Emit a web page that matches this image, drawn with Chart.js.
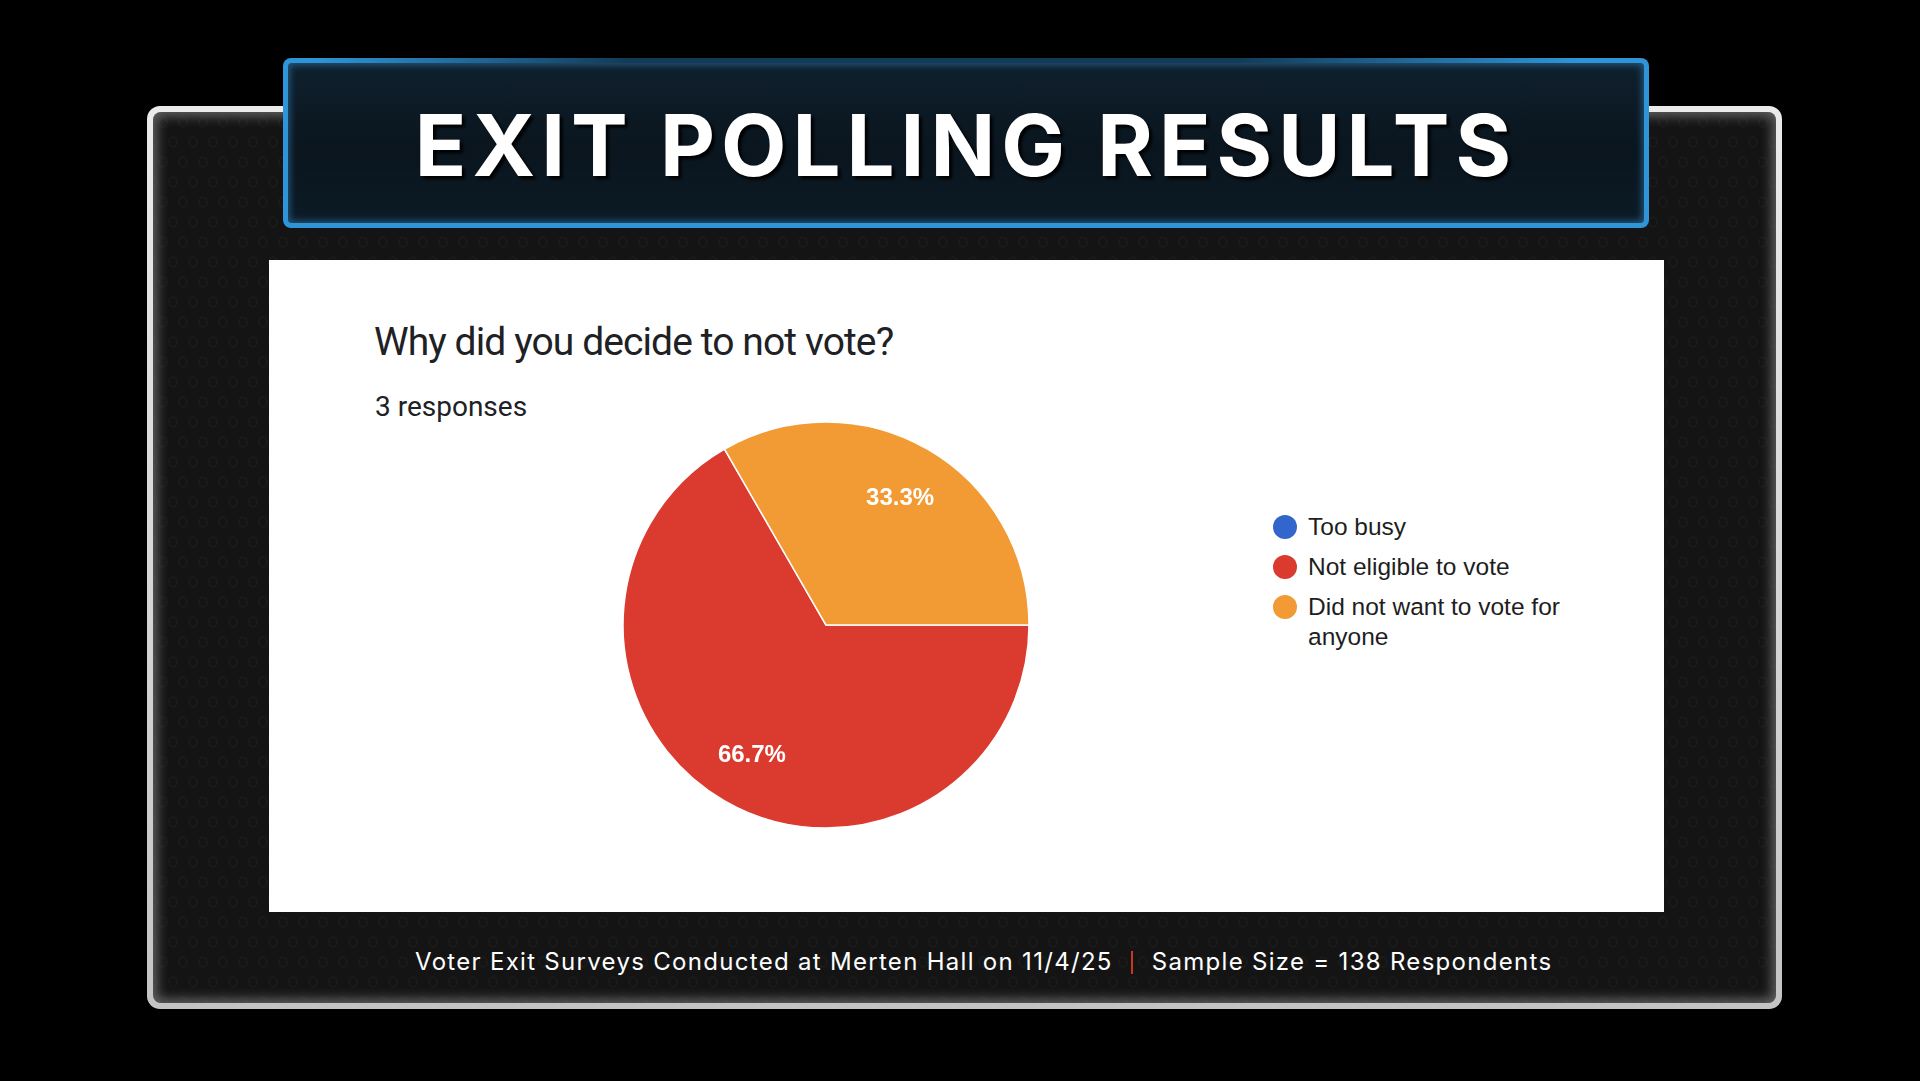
<!DOCTYPE html>
<html>
<head>
<meta charset="utf-8">
<title>Exit Polling Results</title>
<script src="https://cdn.jsdelivr.net/npm/chart.js@4.4.1/dist/chart.umd.min.js"></script>
<style>
    html, body {
        margin: 0;
        padding: 0;
        width: 1920px;
        height: 1081px;
        overflow: hidden;
        background: #000;
    }
    #frame {
        position: absolute;
        left: 147px;
        top: 106px;
        width: 1635px;
        height: 903px;
        border-radius: 13px;
        background: linear-gradient(#ebebeb, #c4c4c4);
    }
    #frameInner {
        position: absolute;
        left: 6px;
        top: 6px;
        right: 6px;
        bottom: 6px;
        border-radius: 8px;
        background-color: #141414;
        background-image:
            radial-gradient(5px 6px at 10px 10px, transparent 62%, rgba(255,255,255,0.028) 72%, rgba(255,255,255,0.028) 88%, transparent 100%),
            radial-gradient(5px 6px at 10px 10px, transparent 62%, rgba(255,255,255,0.028) 72%, rgba(255,255,255,0.028) 88%, transparent 100%);
        background-size: 20px 40px, 20px 40px;
        background-position: 0 0, 10px 20px;
        box-shadow: inset 0 0 12px 4px rgba(125,125,125,0.75);
    }
    #banner {
        position: absolute;
        left: 283px;
        top: 58px;
        width: 1366px;
        height: 170px;
        border-radius: 8px;
        background: #2f95d8;
        overflow: hidden;
    }
    #bannerTopEdge {
        position: absolute;
        left: 0;
        top: 0;
        width: 100%;
        height: 6px;
        background: linear-gradient(90deg, rgba(0,0,0,0) 2%, rgba(10,30,45,0.75) 25%, rgba(10,30,45,0.75) 70%, rgba(0,0,0,0) 95%);
    }
    #bannerInner {
        position: absolute;
        left: 5px;
        top: 5px;
        right: 5px;
        bottom: 5px;
        border-radius: 4px;
        background: linear-gradient(#0f202d, #0a151e 55%, #0c1b26);
        box-shadow: inset 0 0 7px 2px rgba(60,160,230,0.45);
    }
    #bannerTitle {
        position: absolute;
        left: 0;
        top: 103px;
        width: 1920px;
        text-align: center;
        font-family: "Inter", "Noto Sans", sans-serif;
        font-weight: 700;
        font-size: 85px;
        line-height: 85px;
        letter-spacing: 6px;
        color: #fff;
        text-shadow: 3px 3px 3px rgba(0,0,0,0.95);
        padding-left: 6px;
    }
    #panel {
        position: absolute;
        left: 269px;
        top: 260px;
        width: 1395px;
        height: 652px;
        background: #fff;
    }
    #question {
        position: absolute;
        left: 105px;
        top: 63px;
        font-family: "Roboto", sans-serif;
        font-size: 39px;
        line-height: 39px;
        letter-spacing: -0.9px;
        color: #202124;
        white-space: nowrap;
    }
    #responses {
        position: absolute;
        left: 106px;
        top: 133px;
        font-family: "Roboto", sans-serif;
        font-weight: 400;
        font-size: 28px;
        line-height: 28px;
        color: #202124;
        white-space: nowrap;
    }
    #pieCanvas {
        position: absolute;
        left: 347px;
        top: 155px;
    }
    #legend {
        position: absolute;
        left: 1004px;
        top: 252px;
        font-family: "Liberation Sans", Arial, sans-serif;
        font-size: 24.5px;
        line-height: 30px;
        color: #1e1e1e;
    }
    .legend-item {
        display: flex;
        align-items: flex-start;
        margin-bottom: 10px;
    }
    .legend-dot {
        flex: none;
        width: 24px;
        height: 24px;
        border-radius: 50%;
        margin-top: 3px;
        margin-right: 11px;
    }
    .legend-text {
        width: 285px;
    }
    #footer {
        position: absolute;
        left: 415px;
        top: 950px;
        display: flex;
        align-items: center;
        font-family: "Inter", "Noto Sans", sans-serif;
        font-size: 24px;
        line-height: 24px;
        letter-spacing: 1.3px;
        color: #fff;
        white-space: nowrap;
    }
    #footerSep {
        display: inline-block;
        width: 2px;
        height: 23px;
        background: #c4391f;
        margin: 0 19px 0 18px;
    }
</style>
</head>
<body>
<div id="frame"><div id="frameInner"></div></div>
<div id="banner"><div id="bannerTopEdge"></div><div id="bannerInner"></div></div>
<div id="bannerTitle">EXIT POLLING RESULTS</div>

<div id="panel">
    <div id="question">Why did you decide to not vote?</div>
    <div id="responses">3 responses</div>
    <canvas id="pieCanvas" width="420" height="420"></canvas>
    <div id="legend"></div>
</div>

<div id="footer">
    <span>Voter Exit Surveys Conducted at Merten Hall on 11/4/25</span>
    <span id="footerSep"></span>
    <span>Sample Size = 138 Respondents</span>
</div>

<script>
// answers as listed in the form
const categories = ["Too busy", "Not eligible to vote", "Did not want to vote for anyone"];
const responseCounts = [0, 2, 1];
const sliceColors = ["#3366cc", "#db3a2e", "#f29a34"];

// white percentage text inside each slice
const percentLabels = {
    id: "percentLabels",
    afterDatasetsDraw(chart) {
        const ctx = chart.ctx;
        const values = chart.data.datasets[0].data;
        const total = values.reduce((a, b) => a + b, 0);
        const meta = chart.getDatasetMeta(0);
        ctx.save();
        ctx.font = 'bold 24px "Liberation Sans", Arial, sans-serif';
        ctx.fillStyle = "#fff";
        ctx.textAlign = "center";
        ctx.textBaseline = "alphabetic";
        meta.data.forEach((arc, i) => {
            if (!values[i]) return;
            const p = arc.getProps(["x", "y", "startAngle", "endAngle", "outerRadius"], true);
            const mid = (p.startAngle + p.endAngle) / 2;
            const r = p.outerRadius * 0.73;
            const label = (values[i] / total * 100).toFixed(1) + "%";
            ctx.fillText(label, p.x + Math.cos(mid) * r, p.y + Math.sin(mid) * r + 8.6);
        });
        ctx.restore();
    }
};

// legend as html so the long label can wrap
const htmlLegend = {
    id: "htmlLegend",
    afterUpdate(chart) {
        const box = document.getElementById("legend");
        box.innerHTML = "";
        const items = chart.options.plugins.legend.labels.generateLabels(chart);
        items.forEach(item => {
            const row = document.createElement("div");
            row.className = "legend-item";
            const dot = document.createElement("span");
            dot.className = "legend-dot";
            dot.style.background = item.fillStyle;
            const text = document.createElement("span");
            text.className = "legend-text";
            text.textContent = item.text;
            row.appendChild(dot);
            row.appendChild(text);
            box.appendChild(row);
        });
    }
};

const ctx = document.getElementById("pieCanvas").getContext("2d");
new Chart(ctx, {
    type: "pie",
    data: {
        labels: categories,
        datasets: [{
            data: responseCounts,
            backgroundColor: sliceColors,
            borderColor: "#ffffff",
            borderWidth: 1.5,
            rotation: 90,
            radius: 203
        }]
    },
    options: {
        responsive: false,
        animation: false,
        layout: { padding: 0 },
        plugins: {
            legend: { display: false },
            tooltip: { enabled: false }
        }
    },
    plugins: [percentLabels, htmlLegend]
});
</script>
</body>
</html>
